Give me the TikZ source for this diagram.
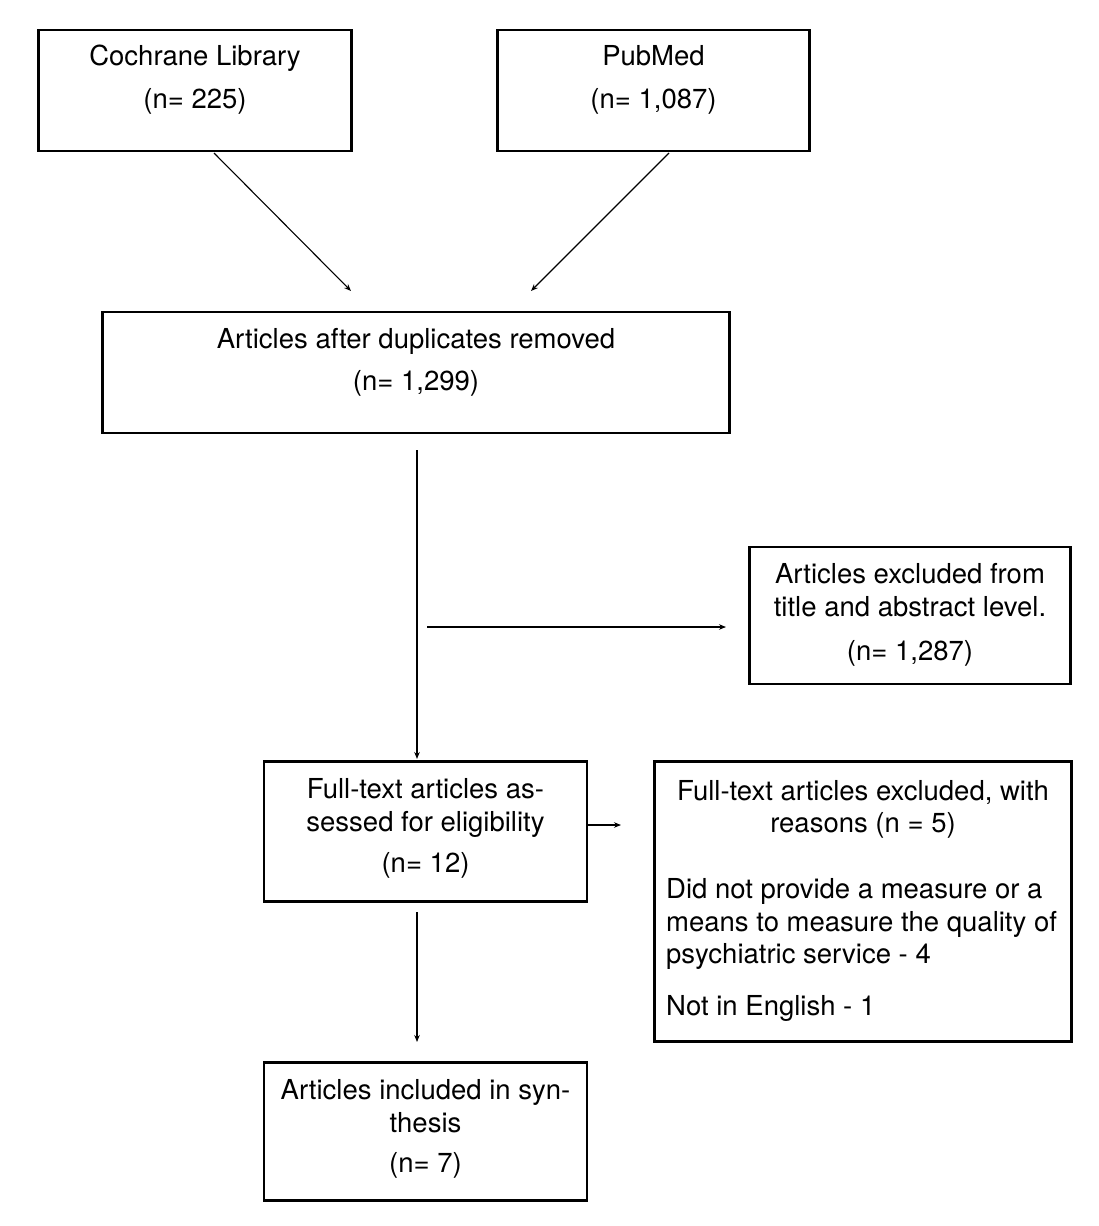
\documentclass[tikz,border=0pt]{standalone}
\usepackage{fontspec}
\setmainfont{TeX Gyre Heros}
\usetikzlibrary{arrows.meta}
\begin{document}
\begin{tikzpicture}[x=1pt,y=-1pt,
  box/.style={draw=black,line width=2.8pt,rectangle,inner sep=0pt},
  txt/.style={inner sep=0pt,font=\fontsize{27.5}{32}\selectfont},
  arr/.style={draw=black,line width=1.1pt,-{Stealth[length=7pt,width=5.5pt]}},
  plain/.style={draw=black,line width=1.1pt}]
\useasboundingbox (0,0) rectangle (1098,1226);
\fill[white] (0,0) rectangle (1098,1226);
% boxes
\node[box,minimum width=313pt,minimum height=121pt] (coch) at (195,90.5) {};
\node[box,minimum width=312pt,minimum height=121pt] (pub) at (653.5,90.5) {};
\node[box,minimum width=627pt,minimum height=121pt] (dedup) at (416,372.5) {};
\node[box,minimum width=321pt,minimum height=137pt] (excl) at (910,615.5) {};
\node[box,minimum width=323pt,minimum height=140pt] (full) at (425.5,831.5) {};
\node[box,minimum width=417pt,minimum height=280pt] (fexcl) at (863,901.5) {};
\node[box,minimum width=323pt,minimum height=138pt] (incl) at (425.5,1131.5) {};
% texts
\node[txt,anchor=base] (cochT1) at (195,65.5) {Cochrane Library};
\node[txt,anchor=base] (cochT2) at (195,108) {(n= 225)};
\node[txt,anchor=base] (pubT1) at (653.5,65.5) {PubMed};
\node[txt,anchor=base] (pubT2) at (653.5,108) {(n= 1,087)};
\node[txt,anchor=base] (dedupT1) at (416,348.5) {Articles after duplicates removed};
\node[txt,anchor=base] (dedupT2) at (416,390.5) {(n= 1,299)};
\node[txt,anchor=base] (exclT1) at (910,583.5) {Articles excluded from};
\node[txt,anchor=base] (exclT2) at (910,616.5) {title and abstract level.};
\node[txt,anchor=base] (exclT3) at (910,660) {(n= 1,287)};
\node[txt,anchor=base] (fullT1) at (425.5,798.5) {Full-text articles as-};
\node[txt,anchor=base] (fullT2) at (425.5,831) {sessed for eligibility};
\node[txt,anchor=base] (fullT3) at (425.5,872) {(n= 12)};
\node[txt,anchor=base] (fexclT1) at (863,800) {Full-text articles excluded, with};
\node[txt,anchor=base] (fexclT2) at (863,832.5) {reasons (n = 5)};
\node[txt,anchor=base west] (fexclT3) at (666,898) {Did not provide a measure or a};
\node[txt,anchor=base west] (fexclT4) at (666,931) {means to measure the quality of};
\node[txt,anchor=base west] (fexclT5) at (666,963.5) {psychiatric service - 4};
\node[txt,anchor=base west] (fexclT6) at (666,1015) {Not in English - 1};
\node[txt,anchor=base] (inclT1) at (425.5,1099) {Articles included in syn-};
\node[txt,anchor=base] (inclT2) at (425.5,1132) {thesis};
\node[txt,anchor=base] (inclT3) at (425.5,1172) {(n= 7)};
% connector end points
\coordinate (c1s) at (214,153);
\coordinate (c1e) at (351,291);
\coordinate (c2s) at (669,153);
\coordinate (c2e) at (531,291);
\coordinate (vs) at (417,450);
\coordinate (ve) at (417,759);
\coordinate (hs) at (427,627);
\coordinate (he) at (726,627);
\coordinate (ss) at (588,825);
\coordinate (se) at (621,825);
\coordinate (bs) at (417,912);
\coordinate (be) at (417,1042);
% connectors
\draw[arr] (c1s) -- (c1e);
\draw[arr] (c2s) -- (c2e);
\draw[arr] (vs) -- (ve);
\draw[arr] (hs) -- (he);
\draw[arr] (ss) -- (se);
\draw[arr] (bs) -- (be);
\end{tikzpicture}
\end{document}
